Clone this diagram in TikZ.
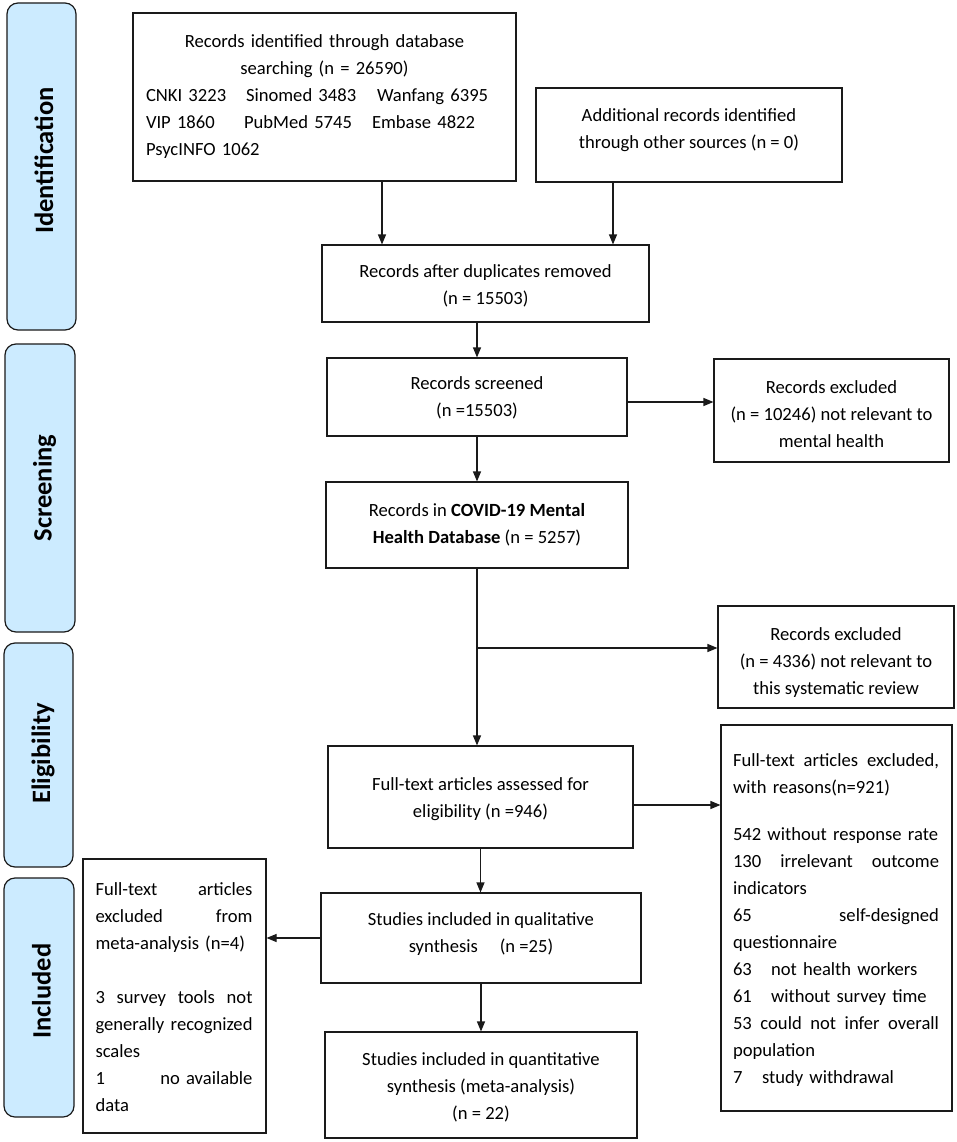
\documentclass[tikz,border=0pt]{standalone}
\usepackage{fontspec}
\setmainfont{Carlito}
\usetikzlibrary{arrows.meta}
\definecolor{panelblue}{HTML}{CCEBFF}
\definecolor{lineblack}{HTML}{1A1A1A}
\newcommand\myfs{\fontsize{18.6pt}{27pt}\selectfont}
\newcommand\jl[1]{\makebox[157pt][l]{#1}}
\newcommand\jr[1]{\makebox[206pt][l]{#1}}
\begin{document}
\begin{tikzpicture}[x=1pt,y=-1pt,
  box/.style={draw=lineblack, line width=1.1pt, fill=white, inner sep=0pt},
  panel/.style={draw=lineblack, line width=1.2pt, fill=panelblue, rounded corners=11pt, inner sep=0pt},
  ptxt/.style={rotate=90, font=\fontsize{26.5pt}{30pt}\selectfont\bfseries, text height=17pt, text depth=0pt, inner sep=0pt},
  txt/.style={font=\myfs, align=center, inner sep=0pt},
  arr/.style={draw=lineblack, line width=1.1pt, -{Triangle[length=10pt,width=8pt]}}]
\useasboundingbox[fill=white] (0,0) rectangle (957,1142);

% side panels
\node[panel, minimum width=69pt, minimum height=327pt] (p1) at (41.5,166.5) {};
\node[ptxt] (p1t) at (44.5,160.5) {Identification};
\node[panel, minimum width=70pt, minimum height=288pt] (p2) at (40,488) {};
\node[ptxt] (p2t) at (43,488) {Screening};
\node[panel, minimum width=69pt, minimum height=224pt] (p3) at (38.5,755) {};
\node[ptxt] (p3t) at (41.5,753.5) {Eligibility};
\node[panel, minimum width=70pt, minimum height=239pt] (p4) at (39,997.5) {};
\node[ptxt] (p4t) at (42,991) {Included};

% boxes
\node[box, minimum width=383pt, minimum height=168pt] (b1) at (324.5,97) {};
\node[txt, text width=357pt, align=left] (b1t) at (324.5,97) {%
\makebox[357pt][c]{Records identified through database}\\
\makebox[357pt][c]{searching (n = 26590)}\\
\makebox[100pt][l]{CNKI 3223}\makebox[131pt][l]{Sinomed 3483}Wanfang 6395\\
\makebox[98pt][l]{VIP 1860}\makebox[128pt][l]{PubMed 5745}Embase 4822\\
PsycINFO 1062};

\node[box, minimum width=306pt, minimum height=94pt] (b2) at (689,135) {};
\node[txt] (b2t) at (689,130) {Additional records identified\\through other sources (n = 0)};

\node[box, minimum width=327pt, minimum height=77pt] (b3) at (485.5,283.5) {};
\node[txt] (b3t) at (485.5,285.5) {Records after duplicates removed\\(n = 15503)};

\node[box, minimum width=300pt, minimum height=78pt] (b4) at (477,397) {};
\node[txt] (b4t) at (477,398) {Records screened\\(n =15503)};

\node[box, minimum width=235pt, minimum height=103pt] (e1) at (831.5,410.5) {};
\node[txt] (e1t) at (831.5,414) {Records excluded\\(n = 10246) not relevant to\\mental health};

\node[box, minimum width=302pt, minimum height=86pt] (b5) at (477,525) {};
\node[txt] (b5t) at (477,524.5) {Records in \textbf{COVID-19 Mental}\\\textbf{Health Database} (n = 5257)};

\node[box, minimum width=236pt, minimum height=102pt] (e2) at (836,657) {};
\node[txt] (e2t) at (836,663) {Records excluded\\(n = 4336) not relevant to\\this systematic review};

\node[box, minimum width=305pt, minimum height=102pt] (b6) at (480.5,797) {};
\node[txt] (b6t) at (480.5,799) {Full-text articles assessed for\\eligibility (n =946)};

\node[box, minimum width=231pt, minimum height=386pt] (e3) at (836.5,918) {};
\node[txt, text width=206pt, align=left] (e3t) at (836,920) {%
\jr{Full-text\hfill articles\hfill excluded,}\\
with reasons(n=921)\\[20pt]
542 without response rate\\
\jr{130\hfill irrelevant\hfill outcome}\\
indicators\\
\jr{65\hfill self-designed}\\
questionnaire\\
\makebox[38pt][l]{63}not health workers\\
\makebox[38pt][l]{61}without survey time\\
\jr{53\hfill could\hfill not\hfill infer\hfill overall}\\
population\\
\makebox[29pt][l]{7}study withdrawal};

\node[box, minimum width=320pt, minimum height=90pt] (b7) at (481,938) {};
\node[txt] (b7t) at (481,934) {Studies included in qualitative\\synthesis\hspace{22pt}(n =25)};

\node[box, minimum width=183pt, minimum height=274pt] (e4) at (174.5,996) {};
\node[txt, text width=157pt, align=left] (e4t) at (174,997) {%
\jl{Full-text\hfill articles}\\
\jl{excluded\hfill from}\\
meta-analysis (n=4)\\[27pt]
\jl{3\hfill survey\hfill tools\hfill not}\\
\jl{generally\hfill recognized}\\
scales\\
\jl{1\hfill no available}\\
data};

\node[box, minimum width=312pt, minimum height=106pt] (b8) at (481,1085) {};
\node[txt] (b8t) at (481,1087.5) {Studies included in quantitative\\synthesis (meta-analysis)\\(n = 22)};

% connectors
\draw[arr] ([xshift=57.5pt]b1.south) -- ([xshift=57.5pt]b1.south |- b3.north);
\draw[arr] ([xshift=-76pt]b2.south) -- ([xshift=-76pt]b2.south |- b3.north);
\draw[arr] (b4.north |- b3.south) -- (b4.north);
\draw[arr] ([yshift=-5pt]b4.east) -- ([yshift=-5pt]b4.east -| e1.west);
\draw[arr] (b4.south) -- (b5.north);
\coordinate (br) at (477,648);
\draw[arr] (b5.south) -- (b5.south |- b6.north);
\draw[arr] (br) -- (br -| e2.west);
\draw[arr] ([yshift=-8pt]b6.east) -- ([yshift=-8pt]b6.east -| e3.west);
\draw[arr] (b6.south) -- (b6.south |- b7.north);
\draw[arr] (b7.west) -- (b7.west -| e4.east);
\draw[arr] (b7.south) -- (b7.south |- b8.north);
\end{tikzpicture}
\end{document}
